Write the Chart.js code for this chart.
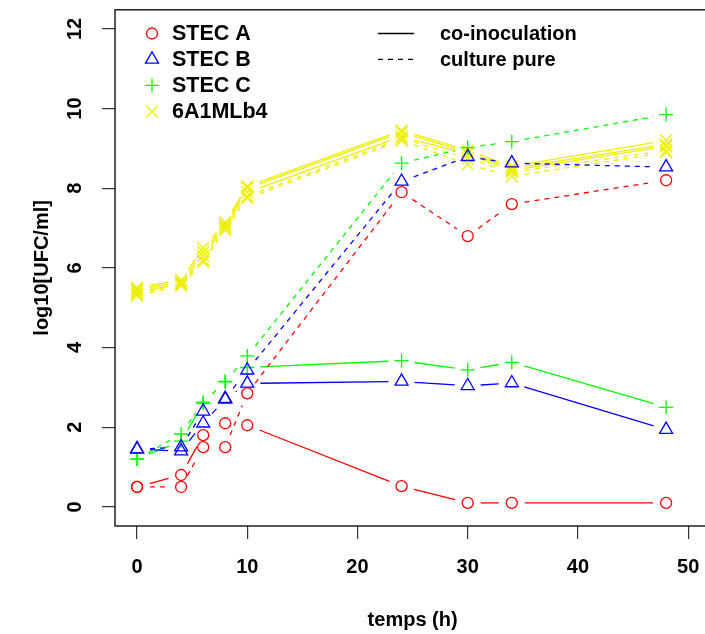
<!DOCTYPE html>
<html><head><meta charset="utf-8">
<script src="https://cdn.jsdelivr.net/npm/chart.js@4/dist/chart.umd.min.js"></script>
<style>html,body{margin:0;padding:0;background:#fff;overflow:hidden;width:705px;height:634px}canvas{display:block}</style>
</head><body>
<canvas id="c" width="720" height="634" style="width:720px;height:634px"></canvas>
<script>
// ---- data ----
const times = [0, 4, 6, 8, 10, 24, 30, 34, 48];
const xTicks = [0, 10, 20, 30, 40, 50];
const yTicks = [0, 2, 4, 6, 8, 10, 12];

const stecA_co   = [0.5, 0.8, 1.8, 2.1, 2.05, 0.52, 0.1, 0.1, 0.1];
const stecA_pure = [0.5, 0.5, 1.5, 1.5, 2.85, 7.9, 6.8, 7.6, 8.2];
const stecB_co   = [1.45, 1.4, 2.1, 2.7, 3.1, 3.15, 3.04, 3.11, 1.94];
const stecB_pure = [1.45, 1.5, 2.4, 2.72, 3.43, 8.17, 8.79, 8.63, 8.53];
const stecC_co   = [1.2, 1.65, 2.6, 3.15, 3.5, 3.67, 3.44, 3.63, 2.5];
const stecC_pure = [1.2, 1.83, 2.63, 3.14, 3.79, 8.63, 9.02, 9.17, 9.85];
const lb4_coA    = [5.5, 5.7, 6.5, 7.15, 8.05, 9.45, 8.95, 8.55, 9.2];
const lb4_coB    = [5.45, 5.65, 6.4, 7.1, 8.0, 9.4, 8.9, 8.5, 9.1];
const lb4_coC    = [5.4, 5.6, 6.3, 7.05, 7.9, 9.3, 8.85, 8.45, 9.05];
const lb4_pure1  = [5.35, 5.6, 6.2, 7.0, 7.8, 9.25, 8.75, 8.4, 8.95];
const lb4_pure2  = [5.3, 5.55, 6.15, 6.95, 7.75, 9.2, 8.6, 8.3, 8.9];

const legendLabels = ['STEC A', 'STEC B', 'STEC C', '6A1MLb4'];
const lineLegendLabels = ['co-inoculation', 'culture pure'];

// ---- styles ----
const RED = '#FF0000', BLUE = '#0000FF', GREEN = '#00FF00', YELLOW = '#EEEE00';
const FONT = '"Liberation Sans", Arial, Helvetica, sans-serif';
const DASH = [5, 5];
const LW = 1.3;
const GAP = 13;
const markers = [
  {color: RED, style: 'circle', r: 5.5},
  {color: BLUE, style: 'triangle', r: 7.5},
  {color: GREEN, style: 'cross', r: 7},
  {color: YELLOW, style: 'crossRot', r: 8.5}
];

function mk(values, m, dashed) {
  return {
    data: times.map((t, i) => ({x: t, y: values[i]})),
    showLine: false,
    borderColor: m.color,
    backgroundColor: 'rgba(0,0,0,0)',
    pointStyle: m.style,
    pointRadius: m.r,
    pointHoverRadius: m.r,
    pointBorderWidth: LW,
    pointBorderColor: m.color,
    pointBackgroundColor: 'rgba(0,0,0,0)',
    dash: dashed ? DASH : [],
  };
}

const datasets = [
  mk(stecA_co, markers[0], false), mk(stecA_pure, markers[0], true),
  mk(stecB_co, markers[1], false), mk(stecB_pure, markers[1], true),
  mk(stecC_co, markers[2], false), mk(stecC_pure, markers[2], true),
  mk(lb4_coA, markers[3], false), mk(lb4_coB, markers[3], false), mk(lb4_coC, markers[3], false),
  mk(lb4_pure1, markers[3], true), mk(lb4_pure2, markers[3], true),
];

// lines with gaps around points (R type="b")
const gapLines = {
  id: 'gapLines',
  beforeDatasetDraw(chart, args) {
    const ds = chart.data.datasets[args.index];
    const pts = args.meta.data;
    const ctx = chart.ctx;
    ctx.save();
    ctx.strokeStyle = ds.borderColor;
    ctx.lineWidth = LW;
    ctx.setLineDash(ds.dash);
    for (let i = 0; i < pts.length - 1; i++) {
      const a = pts[i], b = pts[i + 1];
      const dx = b.x - a.x, dy = b.y - a.y, len = Math.hypot(dx, dy);
      if (len <= 2 * GAP) continue;
      const ux = dx / len, uy = dy / len;
      ctx.beginPath();
      ctx.moveTo(a.x + ux * GAP, a.y + uy * GAP);
      ctx.lineTo(b.x - ux * GAP, b.y - uy * GAP);
      ctx.stroke();
    }
    ctx.restore();
  }
};

function drawMarker(ctx, m, x, y) {
  ctx.save();
  ctx.strokeStyle = m.color;
  ctx.fillStyle = 'rgba(0,0,0,0)';
  ctx.lineWidth = LW;
  if (Chart.helpers && Chart.helpers.drawPoint) {
    Chart.helpers.drawPoint(ctx, {pointStyle: m.style, radius: m.r, rotation: 0, borderWidth: LW}, x, y);
  }
  ctx.restore();
}

const boxAndLegend = {
  id: 'boxAndLegend',
  afterDraw(chart) {
    const ctx = chart.ctx, a = chart.chartArea;
    ctx.save();
    ctx.strokeStyle = '#000';
    ctx.lineWidth = 1.3;
    ctx.setLineDash([]);
    ctx.strokeRect(a.left, a.top, a.right - a.left, a.bottom - a.top);
    // legend (strains)
    ctx.font = 'bold 21.5px ' + FONT;
    ctx.fillStyle = '#000';
    ctx.textBaseline = 'middle';
    ctx.textAlign = 'left';
    const rows = [33.5, 59.3, 85.4, 111.5];
    legendLabels.forEach((lab, i) => {
      drawMarker(ctx, markers[i], 152, rows[i]);
      ctx.fillStyle = '#000';
      ctx.fillText(lab, 172, rows[i] + 1);
    });
    // legend (line types)
    ctx.font = 'bold 20px ' + FONT;
    lineLegendLabels.forEach((lab, i) => {
      ctx.save();
      ctx.strokeStyle = '#000';
      ctx.lineWidth = LW;
      ctx.setLineDash(i === 1 ? DASH : []);
      ctx.beginPath();
      ctx.moveTo(378, rows[i]);
      ctx.lineTo(414, rows[i]);
      ctx.stroke();
      ctx.restore();
      ctx.fillText(lab, 440, rows[i] + 1);
    });
    ctx.restore();
  }
};

Chart.defaults.font.family = FONT;
Chart.defaults.color = '#000';

function noPad(s) { s.paddingTop = 0; s.paddingBottom = 0; s.paddingLeft = 0; s.paddingRight = 0; }

new Chart(document.getElementById('c'), {
  type: 'scatter',
  data: {datasets},
  plugins: [gapLines, boxAndLegend],
  options: {
    responsive: false,
    animation: false,
    devicePixelRatio: 1,
    events: [],
    layout: {padding: {top: 7, right: 7, left: 0, bottom: 0}},
    plugins: {legend: {display: false}, tooltip: {enabled: false}},
    scales: {
      x: {
        type: 'linear', min: -2, max: 52,
        afterBuildTicks: s => { s.ticks = xTicks.map(v => ({value: v})); },
        afterFit: s => { s.height = 108; noPad(s); },
        border: {display: false},
        grid: {drawOnChartArea: false, drawTicks: true, tickLength: 13, tickColor: '#333', lineWidth: 1.2},
        ticks: {font: {size: 20, weight: 'bold'}, color: '#000', padding: 16, maxRotation: 0, autoSkip: false,
                callback: v => String(v)},
        title: {display: true, text: 'temps (h)', font: {size: 20, weight: 'bold'}, color: '#000', padding: {top: 0, bottom: 2}}
      },
      y: {
        type: 'linear', min: -0.48, max: 12.48,
        afterBuildTicks: s => { s.ticks = yTicks.map(v => ({value: v})); },
        afterFit: s => { s.width = 115; noPad(s); },
        border: {display: false},
        grid: {drawOnChartArea: false, drawTicks: true, tickLength: 13, tickColor: '#333', lineWidth: 1.2},
        ticks: {font: {size: 20, weight: 'bold'}, color: '#000', padding: 15, minRotation: 90, maxRotation: 90,
                crossAlign: 'center', autoSkip: false, callback: v => String(v)},
        title: {display: true, text: 'log10[UFC/ml]', font: {size: 20, weight: 'bold'}, color: '#000', padding: {top: 30, bottom: 0}}
      }
    }
  }
});
</script>
</body></html>
